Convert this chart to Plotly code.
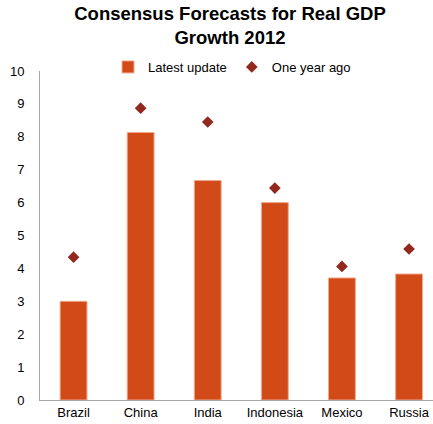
import plotly.graph_objects as go

categories = ["Brazil", "China", "India", "Indonesia", "Mexico", "Russia"]
latest_update = [3.0, 8.13, 6.67, 6.0, 3.71, 3.83]
one_year_ago = [4.34, 8.87, 8.45, 6.44, 4.06, 4.59]
y_ticks = list(range(0, 11))

BAR = "#D24A18"
DIAM = "#93291E"
FONT = "Liberation Sans, Arial, sans-serif"

fig = go.Figure()
fig.add_trace(go.Bar(
    x=categories, y=latest_update, name="Latest update",
    marker=dict(color=BAR, line=dict(color="#EFA98C", width=1)),
    width=0.4,
))
fig.add_trace(go.Scatter(
    x=categories, y=one_year_ago, name="One year ago", mode="markers",
    marker=dict(symbol="diamond", size=9, color=DIAM),
))

fig.update_layout(
    width=433, height=424,
    margin=dict(l=40, r=0, t=71, b=24, pad=0, autoexpand=False),
    paper_bgcolor="white", plot_bgcolor="white",
    font=dict(family=FONT, size=13, color="#000000"),
    title=dict(
        text="<b>Consensus Forecasts for Real GDP<br>Growth 2012</b>",
        x=230 / 433, xanchor="center", xref="container",
        y=1 - 20 / 424, yanchor="middle", yref="container",
        font=dict(family=FONT, size=18.5, color="#000000"),
    ),
    showlegend=True,
    legend=dict(
        orientation="h", x=108 / 433, xanchor="left", xref="container",
        y=1 - 67 / 424, yanchor="middle", yref="container",
        font=dict(family=FONT, size=13, color="#000000"),
        bgcolor="rgba(0,0,0,0)", itemwidth=30, tracegroupgap=0,
    ),
    xaxis=dict(
        range=[-0.5, 5.357], showgrid=False, showline=True,
        linecolor="#A6A6A6", linewidth=1, ticks="",
        tickfont=dict(family=FONT, size=13, color="#000000"),
        fixedrange=True,
    ),
    yaxis=dict(
        range=[0, 10], tickvals=y_ticks, showgrid=False, showline=True,
        linecolor="#A6A6A6", linewidth=1, ticks="", zeroline=False,
        ticklabelstandoff=12,
        tickfont=dict(family=FONT, size=13, color="#000000"),
        fixedrange=True,
    ),
    bargap=0.6,
)

fig.write_html(
    "out.html",
    config={"displayModeBar": False},
    post_script="document.body.style.margin='0';",
)
